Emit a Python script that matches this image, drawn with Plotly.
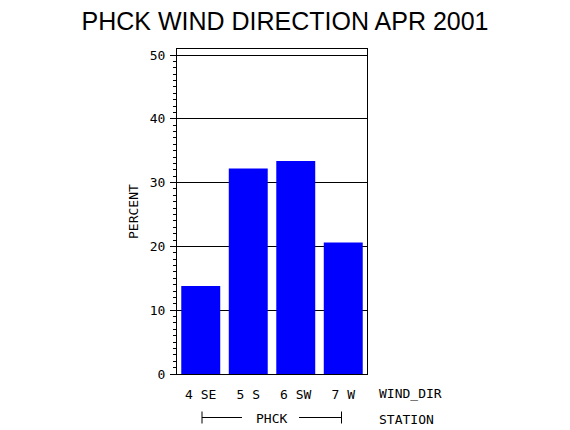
import plotly.graph_objects as go

categories = ["4 SE", "5 S", "6 SW", "7 W"]
percent = [13.8, 32.2, 33.4, 20.6]
y_ticks = [0, 10, 20, 30, 40, 50]

title_text = "PHCK WIND DIRECTION APR 2001"
y_label = "PERCENT"
x_label = "WIND_DIR"
group_label = "STATION"
station = "PHCK"

MONO = "DejaVu Sans Mono"
FS = 13
L, R, T, B = 177, 203, 49, 56
W, H = 570, 430
pw, ph = W - L - R, H - T - B

def px_x(p):
    return (p - L) / pw

def px_y(p):
    return (H - B - p) / ph

fig = go.Figure(go.Bar(
    x=categories, y=percent,
    marker=dict(color="#0000ff", line=dict(width=0)),
))

fig.update_layout(
    width=W, height=H,
    margin=dict(l=L, r=R, t=T, b=B),
    paper_bgcolor="white", plot_bgcolor="white",
    bargap=0.18,
    showlegend=False,
    title=dict(text=title_text, x=0.5, xref="container", xanchor="center",
               y=1 - 21 / H, yanchor="middle",
               font=dict(family="Liberation Sans", size=25, color="black")),
    font=dict(family=MONO, size=FS, color="black"),
)

fig.update_xaxes(
    showline=True, linecolor="black", linewidth=1, mirror=True,
    showgrid=False, ticks="", ticklabelstandoff=8,
    tickfont=dict(family=MONO, size=FS, color="black"),
)
fig.update_yaxes(
    range=[0, 50.94], tickvals=y_ticks,
    showline=True, linecolor="black", linewidth=1, mirror=True,
    showgrid=True, gridcolor="black", gridwidth=1,
    zeroline=False,
    ticks="outside", ticklen=6, tickcolor="black", tickwidth=1,
    minor=dict(dtick=1, ticks="outside", ticklen=3, tickcolor="black", showgrid=False),
    tickfont=dict(family=MONO, size=FS, color="black"),
    ticklabelstandoff=2,
)

ann_font = dict(family=MONO, size=FS, color="black")
fig.add_annotation(text=y_label, xref="paper", yref="paper",
                   x=px_x(134), y=px_y(212), textangle=-90,
                   xanchor="center", yanchor="middle", showarrow=False, font=ann_font)
fig.add_annotation(text=x_label, xref="paper", yref="paper",
                   x=px_x(377), y=px_y(393), xanchor="left", yanchor="middle",
                   showarrow=False, font=ann_font)
fig.add_annotation(text=group_label, xref="paper", yref="paper",
                   x=px_x(377), y=px_y(419), xanchor="left", yanchor="middle",
                   showarrow=False, font=ann_font)
fig.add_annotation(text=station, xref="paper", yref="paper",
                   x=px_x(271.5), y=px_y(418), xanchor="center", yanchor="middle",
                   showarrow=False, font=ann_font)

line = dict(color="black", width=1)
yb = px_y(417.5)
for x0, x1 in [(202, 242), (299, 341.5)]:
    fig.add_shape(type="line", xref="paper", yref="paper",
                  x0=px_x(x0), x1=px_x(x1), y0=yb, y1=yb, line=line)
for xv in (202, 341.5):
    fig.add_shape(type="line", xref="paper", yref="paper",
                  x0=px_x(xv), x1=px_x(xv), y0=px_y(411.5), y1=px_y(423.5), line=line)

fig.write_html("out.html", config={"displayModeBar": False},
               post_script="document.body.style.margin='0';document.body.style.padding='0';")
